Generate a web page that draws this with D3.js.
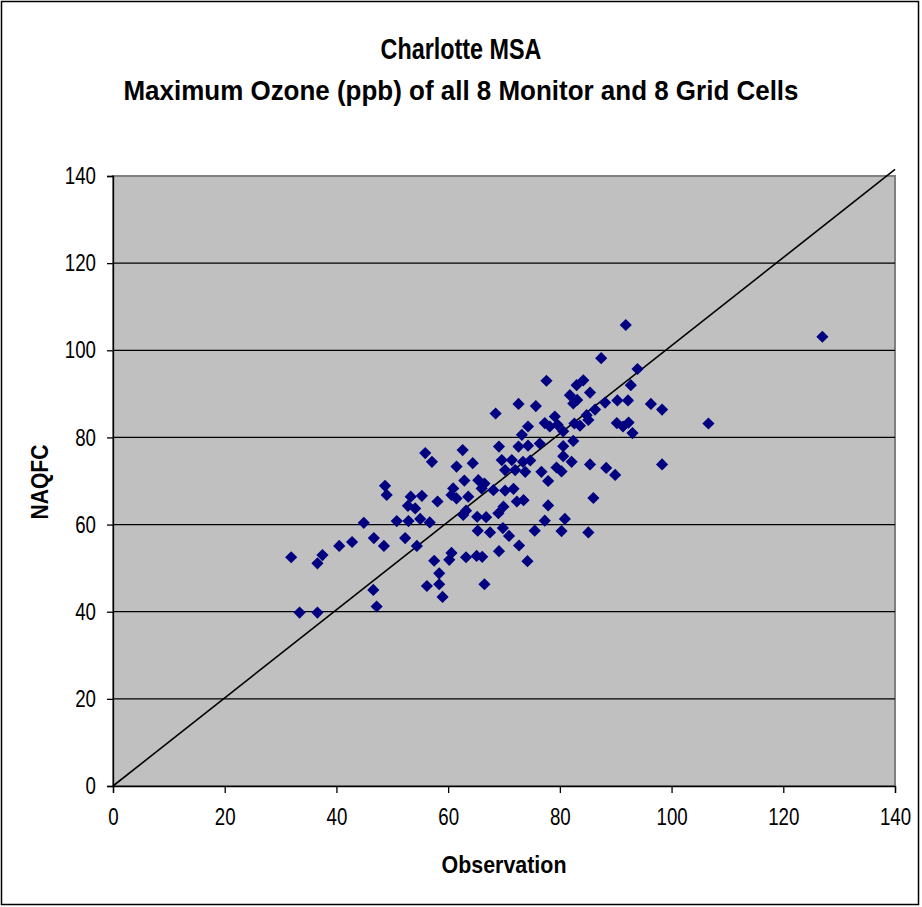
<!DOCTYPE html>
<html>
<head>
<meta charset="utf-8">
<script src="https://cdn.jsdelivr.net/npm/d3@7"></script>
<style>
  body { margin: 0; background: #fff; }
  svg { display: block; font-family: "Liberation Sans", Arial, sans-serif; }
</style>
</head>
<body>
<svg id="chart" width="922" height="907"></svg>
<script>
const titleLines = ['Charlotte MSA', 'Maximum Ozone (ppb) of all 8 Monitor and 8 Grid Cells'];
const xLabel = 'Observation';
const yLabel = 'NAQFC';
const ticks = [0, 20, 40, 60, 80, 100, 120, 140];

const observation = [
  31.9, 33.4, 36.6, 36.6, 37.5, 40.5, 42.8, 44.9, 46.7, 46.6, 47.2, 48.5, 48.7, 49.0, 50.8, 52.3,
  52.9, 52.8, 53.3, 54.1, 54.4, 55.0, 55.3, 55.9, 57.1, 56.7, 56.2, 57.5, 58.1, 58.4, 58.4, 59.0,
  60.2, 60.6, 60.6, 60.9, 61.5, 61.5, 62.6, 62.9, 64.4, 63.2, 63.6, 63.2, 62.7, 65.1, 65.4, 65.2,
  65.3, 66.1, 66.0, 66.5, 66.5, 66.8, 67.5, 68.1, 68.5, 69.1, 69.1, 69.0, 69.6, 69.9, 69.8, 70.2,
  70.2, 70.9, 71.4, 71.7, 72.0, 72.3, 72.6, 72.6, 72.7, 73.2, 73.5, 73.4, 73.8, 74.2, 74.3, 74.3,
  74.7, 75.5, 75.7, 76.4, 76.7, 77.3, 77.3, 77.6, 77.9, 77.9, 78.2, 79.1, 79.6, 79.4, 80.3, 80.6,
  80.3, 80.6, 80.6, 80.9, 81.8, 82.1, 82.4, 82.4, 83.1, 83.0, 84.2, 82.6, 83.6, 84.8, 85.1, 85.1,
  85.4, 85.4, 86.0, 86.3, 87.4, 88.1, 88.3, 89.9, 90.3, 90.2, 91.3, 92.2, 92.3, 92.7, 93.0, 91.8,
  93.9, 96.3, 98.3, 98.3, 106.6, 127.0
];
const naqfc = [
  52.5, 39.8, 39.8, 51.1, 53.0, 55.1, 56.0, 60.4, 56.9, 45.0, 41.2, 55.1, 68.9, 66.8, 60.8, 56.9,
  60.8, 64.3, 66.4, 63.7, 55.1, 61.3, 66.6, 76.4, 74.4, 60.5, 45.9, 51.7, 65.3, 48.8, 46.3, 43.4,
  51.9, 53.5, 66.8, 68.3, 66.0, 73.3, 77.1, 70.1, 74.1, 52.5, 66.4, 63.2, 62.2, 52.8, 70.2, 61.8,
  58.6, 52.6, 68.3, 69.4, 46.3, 61.7, 58.2, 67.9, 85.5, 77.9, 53.9, 62.6, 74.8, 64.1, 59.2, 72.5,
  67.8, 57.4, 74.8, 68.2, 72.5, 65.3, 87.7, 77.9, 55.2, 80.6, 65.6, 74.4, 72.1, 51.6, 82.5, 78.1,
  74.7, 58.6, 87.2, 78.6, 72.1, 83.3, 60.9, 93.0, 70.0, 64.4, 82.5, 84.8, 82.9, 73.1, 72.2, 81.4,
  58.5, 78.0, 75.7, 61.3, 89.7, 74.4, 79.2, 87.8, 88.6, 92.0, 93.1, 83.2, 82.7, 85.1, 84.0, 58.2,
  90.3, 73.8, 66.1, 86.4, 98.2, 88.0, 73.0, 71.4, 88.5, 83.3, 82.5, 88.5, 83.4, 92.0, 81.0, 105.8,
  95.7, 87.7, 86.4, 73.8, 83.2, 103.1
];
// the drawn reference line (roughly 1:1)
const refLineX = [0, 140];
const refLineY = [0, 141.5];

const svg = d3.select('#chart');
const margin = {left: 113, right: 27, top: 176, bottom: 121};
const width = 922 - margin.left - margin.right;
const height = 907 - margin.top - margin.bottom;

// outer frame
svg.append('rect')
  .attr('x', 1.5).attr('y', 1.5)
  .attr('width', 917).attr('height', 903)
  .style('fill', '#fff')
  .style('stroke', '#000')
  .style('stroke-width', 1.5);

// titles
svg.selectAll('text.title')
  .data(titleLines)
  .enter()
  .append('text')
  .attr('class', 'title')
  .attr('x', 461)
  .attr('y', (d, i) => 59 + i * 41)
  .attr('text-anchor', 'middle')
  .attr('textLength', (d, i) => i === 0 ? 161 : 675)
  .attr('lengthAdjust', 'spacingAndGlyphs')
  .style('font-size', (d, i) => i === 0 ? '29px' : '28px')
  .style('font-weight', 'bold')
  .text(d => d);

const g = svg.append('g').attr('transform', `translate(${margin.left},${margin.top})`);

const x = d3.scaleLinear().domain([0, 140]).range([0, width]);
const y = d3.scaleLinear().domain([0, 140]).range([height, 0]);

// plot area
g.append('rect')
  .attr('width', width).attr('height', height)
  .style('fill', '#c0c0c0')
  .style('stroke', '#808080')
  .style('stroke-width', 2);

// gridlines
g.selectAll('line.grid')
  .data(ticks.slice(1, -1))
  .enter()
  .append('line')
  .attr('class', 'grid')
  .attr('x1', 0).attr('x2', width)
  .attr('y1', d => y(d)).attr('y2', d => y(d))
  .style('stroke', '#000')
  .style('stroke-width', 1.3);

// axes
const xAxis = g.append('g')
  .attr('transform', `translate(0,${height})`)
  .call(d3.axisBottom(x).tickValues(ticks).tickSize(7).tickPadding(17));
const yAxis = g.append('g')
  .call(d3.axisLeft(y).tickValues(ticks).tickSize(6).tickPadding(11));

[xAxis, yAxis].forEach(a => {
  a.select('.domain').style('stroke', '#000').style('stroke-width', 1.3);
  a.selectAll('.tick line').style('stroke', '#000').style('stroke-width', 1.3);
  a.selectAll('.tick text')
    .style('font-family', '"Liberation Sans", Arial, sans-serif')
    .style('font-size', '24px')
    .style('fill', '#000')
    .attr('textLength', d => String(d).length * 10.4)
    .attr('lengthAdjust', 'spacingAndGlyphs');
});
xAxis.selectAll('.tick text').attr('dy', '0.62em');

// 1:1 line
const refLine = refLineX.map((v, i) => [v, refLineY[i]]);
g.append('path')
  .datum(refLine)
  .attr('d', d3.line().x(d => x(d[0])).y(d => y(d[1])))
  .style('fill', 'none')
  .style('stroke', '#000')
  .style('stroke-width', 1.6);

// points
const points = observation.map((v, i) => [v, naqfc[i]]);
g.selectAll('path.pt')
  .data(points)
  .enter()
  .append('path')
  .attr('class', 'pt')
  .attr('d', d3.symbol(d3.symbolSquare, 74)())
  .attr('transform', d => `translate(${x(d[0])},${y(d[1])}) rotate(45)`)
  .style('fill', '#000080');

// axis titles
svg.append('text')
  .attr('x', 504)
  .attr('y', 873)
  .attr('text-anchor', 'middle')
  .attr('textLength', 125)
  .attr('lengthAdjust', 'spacingAndGlyphs')
  .style('font-size', '24px')
  .style('font-weight', 'bold')
  .text(xLabel);

svg.append('text')
  .attr('transform', 'translate(48,482) rotate(-90)')
  .attr('text-anchor', 'middle')
  .attr('textLength', 75)
  .attr('lengthAdjust', 'spacingAndGlyphs')
  .style('font-size', '23px')
  .style('font-weight', 'bold')
  .text(yLabel);
</script>
</body>
</html>
